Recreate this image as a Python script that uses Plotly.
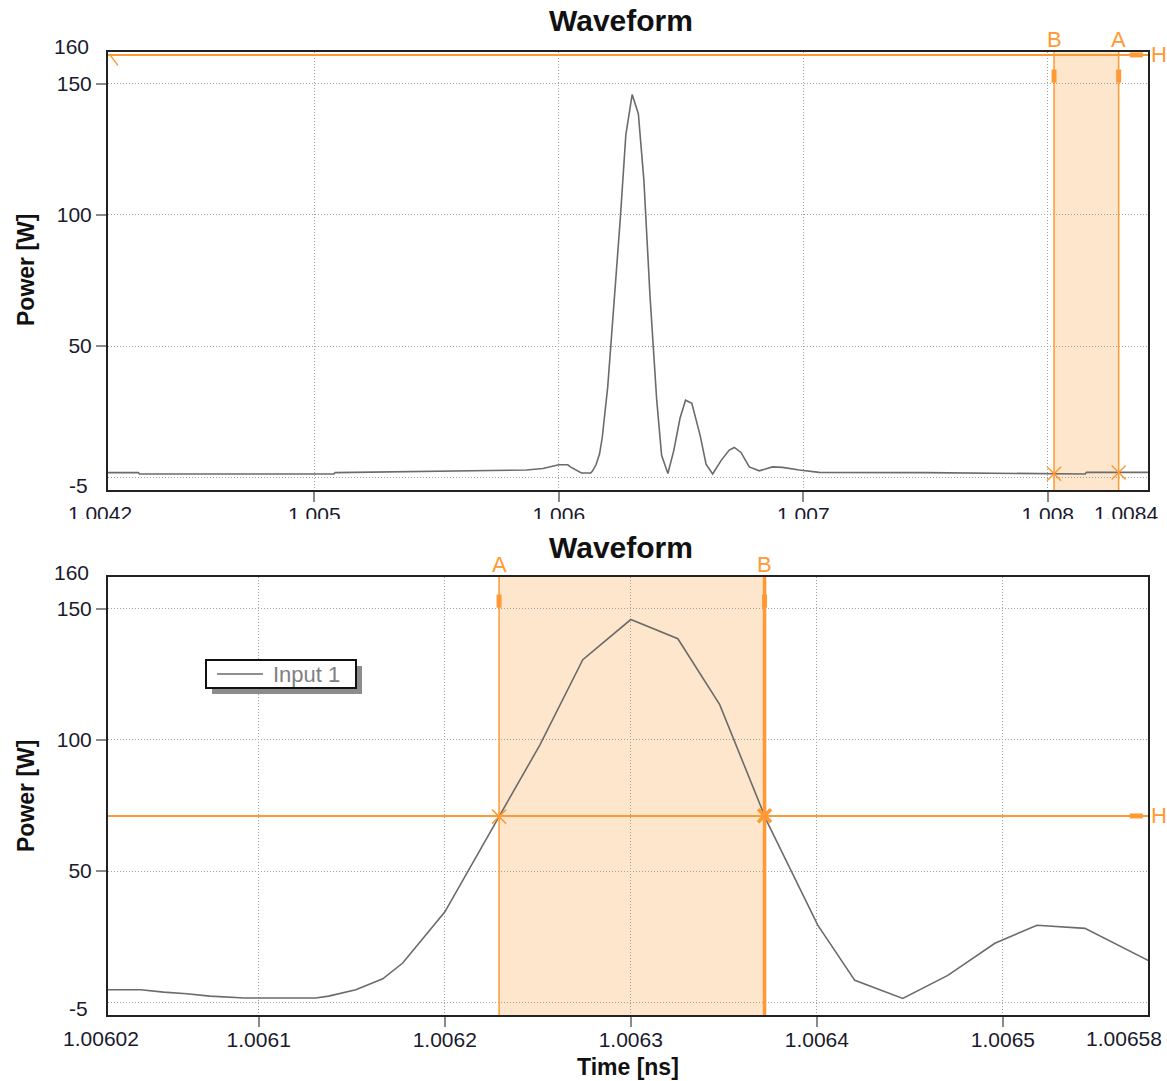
import numpy as np
import plotly.graph_objects as go

# ---------------- data ----------------
series_name = "Input 1"
time_ns = [
    1.004156, 1.004280, 1.004285, 1.005080, 1.005085, 1.005400, 1.005650, 1.005867, 1.005935, 1.006000,
    1.0060188, 1.0060366, 1.0060489, 1.0060613, 1.0060737, 1.0060925, 1.0061306, 1.0061376, 1.0061522,
    1.0061667, 1.0061774, 1.0062000, 1.0062511, 1.0062742, 1.0063000, 1.0063253, 1.0063478, 1.0063731,
    1.0064005, 1.0064204, 1.0064462, 1.0064704, 1.0064957, 1.0065183, 1.0065441, 1.0065780,
    1.0066023, 1.0066292, 1.0066635, 1.0066974, 1.0067178, 1.0067452, 1.0067791, 1.0068199, 1.0068742,
    1.0069151, 1.0069833, 1.0070649, 1.0075000, 1.0080000, 1.0081530, 1.0081580, 1.0084100,
]
power_w = [
    1.8, 1.8, 1.3, 1.3, 1.8, 2.2, 2.6, 2.8, 3.4, 4.8,
    4.8, 4.8, 3.9, 3.3, 2.4, 1.65, 1.65, 2.4, 4.8,
    9.0, 15.0, 34.4, 98.0, 130.5, 145.8, 138.5, 113.4, 69.0,
    29.4, 8.4, 1.5, 10.3, 22.5, 29.4, 28.2, 16.0,
    5.0, 1.3, 6.4, 10.4, 11.4, 9.5, 4.0, 2.5, 4.0,
    3.8, 2.8, 1.9, 1.8, 1.4, 1.3, 1.9, 1.9,
]

top_x_range = [1.004156, 1.008410]
bottom_x_range = [1.006019, 1.006578]
power_range = [-4.8, 162.0]

top_xticks = [1.005, 1.006, 1.007, 1.008]
bottom_xticks = [1.0061, 1.0062, 1.0063, 1.0064, 1.0065]
power_ticks = [50, 100, 150]
power_edge_labels = ["160", "-5"]

top_cursor_a, top_cursor_b, top_cursor_h = 1.008290, 1.0080257, 160.9
bottom_cursor_a, bottom_cursor_b, bottom_cursor_h = 1.0062292, 1.0063719, 71.0

# ---------------- style ----------------
W, H = 1167, 1081
FONT = "Liberation Sans, Arial, sans-serif"
ORANGE = "#FF9933"
FILL = "#FDE6CC"
WAVE = "#6b6b6b"
GRID = "#a0a0a0"
TXT = "#1a1a2e"
TICK_SIZE = 21
LABEL_STANDOFF = -5


def px(X):
    return X / W


def py(Y):
    return 1 - Y / H


XDOM = [px(108), px(1148)]
TOP_DOM = [py(490), py(52)]
BOT_DOM = [py(1015), py(577)]


def xaxis_cfg(rng, ticks, fmt):
    return dict(
        domain=XDOM, range=rng, automargin=False, tickmode="array", tickvals=ticks,
        ticktext=[fmt.format(t) for t in ticks],
        ticks="outside", ticklen=10, tickwidth=2, tickcolor="#8a8a8a",
        showgrid=True, gridcolor=GRID, griddash="1px,2px", gridwidth=1,
        showline=True, linecolor="#222", linewidth=2, mirror=True, zeroline=False,
        tickfont=dict(family=FONT, size=TICK_SIZE, color=TXT), ticklabelstandoff=LABEL_STANDOFF,
    )


def edge_axis_cfg(base, anchor, rng, val, label, shift):
    # overlay axis carrying only one range-end label, nudged inward like the original
    span = rng[1] - rng[0]
    v = min(max(val, rng[0] + span * 1e-6), rng[1] - span * 1e-6)
    return dict(
        overlaying=base, anchor=anchor, range=rng, automargin=False, tickmode="array",
        tickvals=[v], ticktext=[label], ticks="outside", ticklen=10, tickcolor="rgba(0,0,0,0)",
        showgrid=False, showline=False, zeroline=False, side="bottom",
        tickfont=dict(family=FONT, size=TICK_SIZE, color=TXT), ticklabelstandoff=LABEL_STANDOFF,
        ticklabelshift=shift, ticklabeloverflow="allow",
    )


def yaxis_cfg(dom, anchor):
    return dict(
        domain=dom, range=power_range, anchor=anchor, automargin=False, tickmode="array",
        tickvals=power_ticks,
        ticks="outside", ticklen=10, tickwidth=2, tickcolor="#8a8a8a",
        showgrid=True, gridcolor=GRID, griddash="1px,2px", gridwidth=1,
        showline=True, linecolor="#222", linewidth=2, mirror=True, zeroline=False,
        tickfont=dict(family=FONT, size=TICK_SIZE, color=TXT),
        minor=dict(tickmode="array", tickvals=[0], ticks="", showgrid=True,
                   gridcolor=GRID, griddash="1px,2px", gridwidth=1),
    )


fig = go.Figure()

# waveform traces
fig.add_trace(go.Scatter(x=time_ns, y=power_w, xaxis="x", yaxis="y", mode="lines",
                         line=dict(color=WAVE, width=1.6), name=series_name, showlegend=False))
fig.add_trace(go.Scatter(x=time_ns, y=power_w, xaxis="x2", yaxis="y2", mode="lines",
                         line=dict(color=WAVE, width=1.6), name=series_name, showlegend=False))
# empty traces so the overlay label axes are drawn
for xa, ya in (("x3", "y"), ("x4", "y"), ("x5", "y2"), ("x6", "y2")):
    fig.add_trace(go.Scatter(x=[], y=[], xaxis=xa, yaxis=ya, showlegend=False, hoverinfo="skip"))

shapes = []
annotations = []


def cursor_panel(xr, yr, a, b, h, bold_b, left_tick):
    xd, yd = xr + " domain", yr + " domain"
    lo, hi = min(a, b), max(a, b)
    shapes.append(dict(type="rect", xref=xr, yref=yd, x0=lo, x1=hi, y0=0, y1=1,
                       fillcolor=FILL, line=dict(width=0), layer="below"))
    for c, is_b in ((a, False), (b, True)):
        wdt = 3.5 if (is_b and bold_b) else 1.5
        shapes.append(dict(type="line", xref=xr, yref=yd, x0=c, x1=c, y0=0, y1=1,
                           line=dict(color=ORANGE, width=wdt), layer="above"))
        shapes.append(dict(type="line", xref=xr, yref=yd, x0=c, x1=c, y0=0.930, y1=0.960,
                           line=dict(color=ORANGE, width=5), layer="above"))
    shapes.append(dict(type="line", xref=xd, yref=yr, x0=0, x1=1, y0=h, y1=h,
                       line=dict(color=ORANGE, width=2), layer="above"))
    shapes.append(dict(type="line", xref=xd, yref=yr, x0=0.9825, x1=0.995, y0=h, y1=h,
                       line=dict(color=ORANGE, width=5), layer="above"))
    if left_tick:
        shapes.append(dict(type="line", xref=xd, yref=yr, x0=0.002, x1=0.0095, y0=h, y1=h - 4,
                           line=dict(color=ORANGE, width=1.5), layer="above"))
    for c, lab in ((a, "A"), (b, "B")):
        annotations.append(dict(x=c, y=1, xref=xr, yref=yd, text=lab, showarrow=False,
                                xanchor="center", yanchor="bottom", yshift=-2,
                                font=dict(family=FONT, size=22, color=ORANGE)))
    annotations.append(dict(x=1, y=h, xref=xd, yref=yr, text="H", showarrow=False,
                            xanchor="left", yanchor="middle", xshift=1,
                            font=dict(family=FONT, size=22, color=ORANGE)))


cursor_panel("x", "y", top_cursor_a, top_cursor_b, top_cursor_h, False, True)
cursor_panel("x2", "y2", bottom_cursor_a, bottom_cursor_b, bottom_cursor_h, True, False)

# cursor/waveform intersection markers
top_cx = [top_cursor_b, top_cursor_a]
fig.add_trace(go.Scatter(x=top_cx, y=list(np.interp(top_cx, time_ns, power_w)), xaxis="x", yaxis="y",
                         mode="markers", showlegend=False, hoverinfo="skip",
                         marker=dict(symbol="x-thin", size=14, line=dict(color=ORANGE, width=1.5))))
fig.add_trace(go.Scatter(x=[bottom_cursor_a], y=list(np.interp([bottom_cursor_a], time_ns, power_w)),
                         xaxis="x2", yaxis="y2", mode="markers", showlegend=False, hoverinfo="skip",
                         marker=dict(symbol="x-thin", size=14, line=dict(color=ORANGE, width=1.5))))
fig.add_trace(go.Scatter(x=[bottom_cursor_b], y=list(np.interp([bottom_cursor_b], time_ns, power_w)),
                         xaxis="x2", yaxis="y2", mode="markers", showlegend=False, hoverinfo="skip",
                         marker=dict(symbol="x-thin", size=13, line=dict(color=ORANGE, width=3.5))))

# titles
for Y in (21, 547):
    annotations.append(dict(x=px(621), y=py(Y), xref="paper", yref="paper", text="<b>Waveform</b>",
                            showarrow=False, xanchor="center", yanchor="middle",
                            font=dict(family=FONT, size=30, color="#111")))
for Y in (270, 796):
    annotations.append(dict(x=px(26), y=py(Y), xref="paper", yref="paper", text="<b>Power [W]</b>",
                            showarrow=False, textangle=-90, xanchor="center", yanchor="middle",
                            font=dict(family=FONT, size=23, color="#111")))
annotations.append(dict(x=px(628), y=py(1067), xref="paper", yref="paper", text="<b>Time [ns]</b>",
                        showarrow=False, xanchor="center", yanchor="middle",
                        font=dict(family=FONT, size=23, color="#111")))
# y edge labels
for (Ytop, Ybot) in ((47, 485), (572, 1008)):
    annotations.append(dict(x=px(91), y=py(Ytop), xref="paper", yref="paper", text=power_edge_labels[0],
                            showarrow=False, xanchor="right", yanchor="middle",
                            font=dict(family=FONT, size=TICK_SIZE, color=TXT)))
    annotations.append(dict(x=px(90), y=py(Ybot), xref="paper", yref="paper", text=power_edge_labels[1],
                            showarrow=False, xanchor="right", yanchor="middle",
                            font=dict(family=FONT, size=TICK_SIZE, color=TXT)))

# white band clipping the top panel's x labels (as in the original)
shapes.append(dict(type="rect", xref="paper", yref="paper", x0=0, x1=1, y0=py(535), y1=py(519),
                   fillcolor="white", line=dict(width=0), layer="above"))

# legend box (shadow, frame, line sample, label)
shapes.append(dict(type="rect", xref="paper", yref="paper", x0=px(212), x1=px(362), y0=py(694), y1=py(666),
                   fillcolor="#8c8c8c", line=dict(width=0), layer="above"))
shapes.append(dict(type="rect", xref="paper", yref="paper", x0=px(206), x1=px(356), y0=py(688), y1=py(660),
                   fillcolor="white", line=dict(color="#111", width=2), layer="above"))
shapes.append(dict(type="line", xref="paper", yref="paper", x0=px(217), x1=px(263), y0=py(674), y1=py(674),
                   line=dict(color=WAVE, width=1.6), layer="above"))
annotations.append(dict(x=px(271), y=py(674), xref="paper", yref="paper", text=series_name,
                        showarrow=False, xanchor="left", yanchor="middle",
                        font=dict(family=FONT, size=22, color="#808080")))

fig.update_layout(
    width=W, height=H, margin=dict(l=0, r=0, t=0, b=0),
    paper_bgcolor="white", plot_bgcolor="white",
    xaxis=dict(anchor="y", **xaxis_cfg(top_x_range, top_xticks, "{:g}")),
    yaxis=yaxis_cfg(TOP_DOM, "x"),
    xaxis2=dict(anchor="y2", **xaxis_cfg(bottom_x_range, bottom_xticks, "{:.4f}")),
    yaxis2=yaxis_cfg(BOT_DOM, "x2"),
    xaxis3=edge_axis_cfg("x", "y", top_x_range, top_x_range[0], "{:.4f}".format(top_x_range[0]), -8),
    xaxis4=edge_axis_cfg("x", "y", top_x_range, top_x_range[1], "{:.4f}".format(top_x_range[1]), -22),
    xaxis5=edge_axis_cfg("x2", "y2", bottom_x_range, bottom_x_range[0],
                         "{:.5f}".format(bottom_x_range[0]), -7),
    xaxis6=edge_axis_cfg("x2", "y2", bottom_x_range, bottom_x_range[1],
                         "{:.5f}".format(bottom_x_range[1]), -24),
    shapes=shapes, annotations=annotations,
    showlegend=False,
)

fig.write_html("out.html")
